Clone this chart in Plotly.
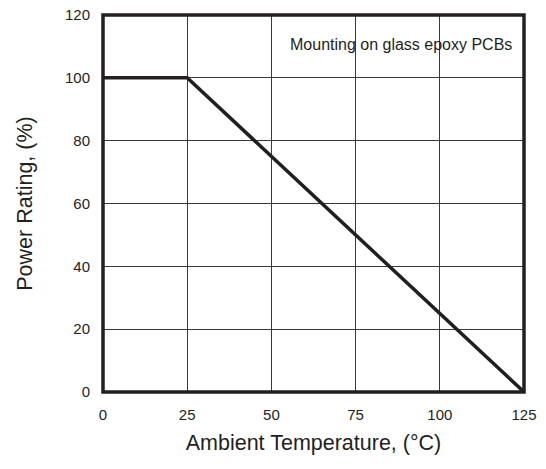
import plotly.graph_objects as go

temps = [0, 25, 125]
power = [100, 100, 0]
x_ticks = [0, 25, 50, 75, 100, 125]
y_ticks = [0, 20, 40, 60, 80, 100, 120]
note = "Mounting on glass epoxy PCBs"

dark = "#231f20"
font = "Liberation Sans, Arial, sans-serif"

fig = go.Figure()
fig.add_trace(go.Scatter(x=temps, y=power, mode="lines",
                         line=dict(color=dark, width=3.5), showlegend=False))

fig.add_shape(type="rect", xref="paper", yref="paper", x0=0, y0=0, x1=1, y1=1,
              line=dict(color=dark, width=3.5), layer="above")

fig.add_annotation(x=0.976, y=110.5, xref="paper", yref="y", text=note,
                   showarrow=False, xanchor="right", yanchor="middle",
                   font=dict(family=font, size=16, color=dark))

fig.update_layout(
    width=546, height=469,
    margin=dict(l=103, r=22, t=15, b=77),
    plot_bgcolor="white", paper_bgcolor="white",
    font=dict(family=font, color=dark),
    xaxis=dict(range=[0, 125], tickvals=x_ticks, showgrid=True, automargin=False,
               gridcolor="#3a3a3a", gridwidth=1, zeroline=False,
               ticks="", ticklabelstandoff=12,
               tickfont=dict(size=15, family=font, color=dark),
               title=dict(text="Ambient Temperature, (°C)", standoff=12,
                          font=dict(size=21.5, family=font, color=dark))),
    yaxis=dict(range=[0, 120], tickvals=y_ticks, showgrid=True, automargin=False,
               gridcolor="#3a3a3a", gridwidth=1, zeroline=False,
               ticks="", ticklabelstandoff=12,
               tickfont=dict(size=15, family=font, color=dark),
               title=dict(text="Power Rating, (%)", standoff=26,
                          font=dict(size=21.5, family=font, color=dark))),
)

fig.write_html("out.html", config={"displayModeBar": False},
               post_script="document.body.style.margin='0px';document.body.style.overflow='hidden';")
